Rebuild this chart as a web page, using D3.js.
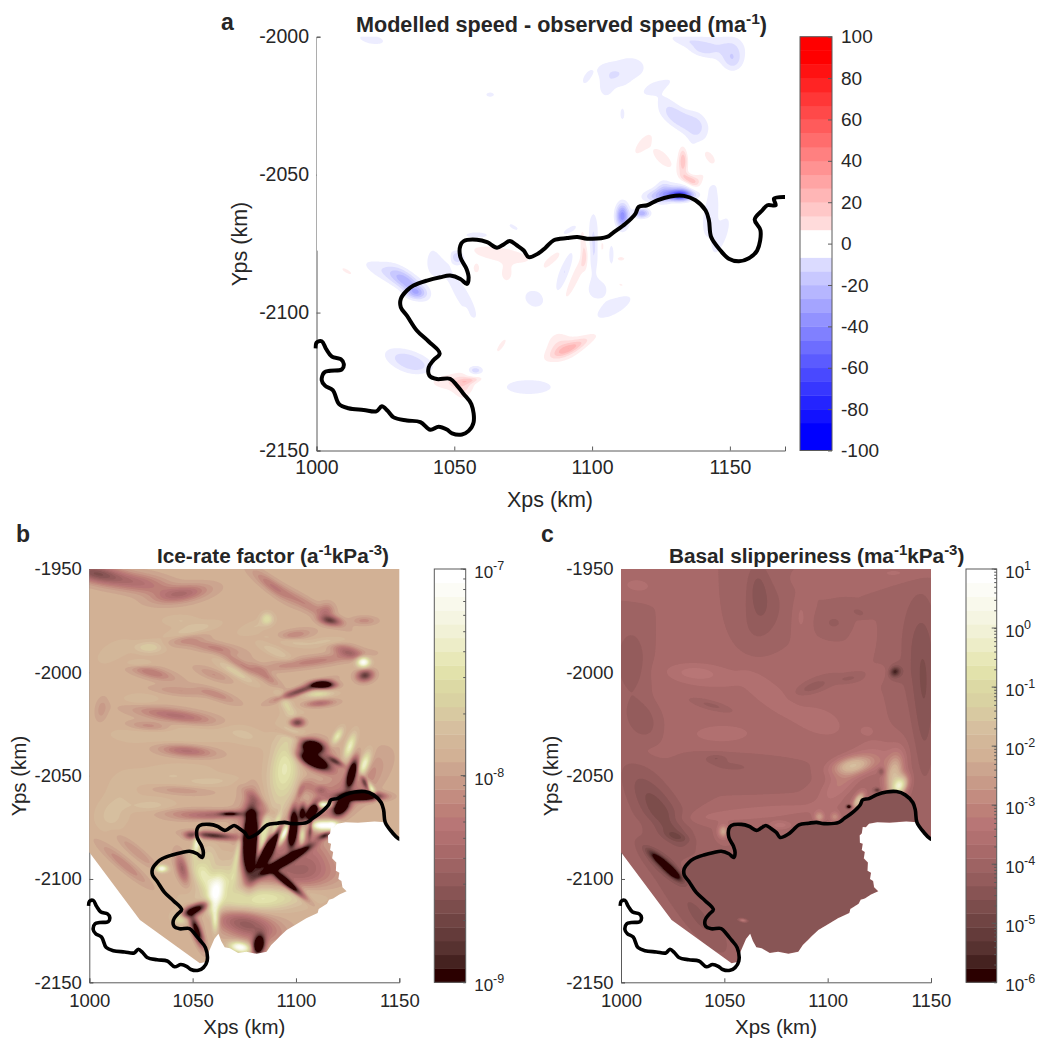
<!DOCTYPE html>
<html><head><meta charset="utf-8">
<script src="https://cdn.jsdelivr.net/npm/d3@7"></script>
<style>html,body{margin:0;padding:0;background:#fff}svg{display:block}
text{font-family:"Liberation Sans",Arial,sans-serif;fill:#262626}
</style></head><body><svg id="c" width="1037" height="1042"></svg>
<script>
// Grounding line (km)
const coastX=[999.6,1000.1,1001.9,1003.5,1005.6,1008.8,1009.9,1009.2,1005,1002.8,1001.9,1003.1,1005.9,1008.2,1011.6,1017.1,1021.7,1023.7,1025.8,1028,1032.8,1037.7,1041.3,1044.3,1047.3,1049.2,1052.8,1055.2,1057,1056.2,1053.4,1051,1048.5,1043.7,1041,1040.7,1042.5,1044.7,1040.7,1036.4,1032.8,1030.6,1030.6,1032.8,1035.2,1040.1,1044.9,1048.5,1052.2,1054.6,1055.2,1054.4,1052.2,1052.2,1053.4,1058.2,1061.9,1065.5,1067.9,1070.1,1072.8,1075.2,1077,1080.6,1083.1,1086.1,1090.9,1094.6,1098.2,1105.4,1107.9,1112.1,1115.7,1116.9,1120,1123.6,1128.4,1133.3,1137.5,1141.2,1142.4,1143.2,1146.6,1149.6,1153.3,1156.9,1159.9,1161.1,1159,1161.7,1163.6,1166.6,1166,1170.2];
const coastY=[-2113,-2110.8,-2110.4,-2113.2,-2116,-2116.9,-2118.6,-2120.6,-2121.1,-2121.7,-2124.5,-2126.5,-2128.1,-2133.2,-2134.7,-2135.3,-2135.8,-2134,-2135.6,-2138,-2139.1,-2139.7,-2142.5,-2141.4,-2142.4,-2143.8,-2144.2,-2142.9,-2139.8,-2133.2,-2129.5,-2126.5,-2124,-2124.1,-2122.9,-2119.9,-2117.2,-2114.8,-2110.5,-2106.5,-2101.1,-2098.1,-2095,-2092,-2090.2,-2088.4,-2087.2,-2086.6,-2087.8,-2089.6,-2087.2,-2084.1,-2079.9,-2075.7,-2074.1,-2073.6,-2074.5,-2076.5,-2075.3,-2074.1,-2075.7,-2077.5,-2079.9,-2078.5,-2076.5,-2073.8,-2073,-2072.6,-2073.2,-2072.6,-2070.8,-2067.8,-2064.2,-2061.7,-2061.1,-2059.3,-2057.9,-2057.7,-2059.3,-2063,-2066.6,-2072.6,-2077.5,-2080.5,-2081.4,-2080.3,-2077.5,-2070.2,-2066.3,-2063,-2061.1,-2061.1,-2058.7,-2058.1];
// Model domain outline of panels b and c (km)
const domainX=[1000,1150,1150,1146.6,1143.2,1138,1130,1124,1120,1118.5,1117,1116.5,1115.5,1115.6,1117,1116.5,1118,1117.5,1119.5,1119.3,1121,1120.5,1122,1122.5,1124.5,1121,1118,1116,1115,1111,1110.5,1105,1100,1095.5,1092.5,1090.5,1088,1085.8,1081,1076,1072,1068,1065.5,1063.8,1062.5,1060.5,1059,1057.5,1056.7,1053.5,1024.5,1000];
const domainY=[-1950,-1950,-2080,-2077.5,-2072.6,-2072.2,-2072.8,-2072.6,-2073.3,-2075,-2074.8,-2078,-2079,-2082.5,-2083,-2086,-2087,-2090,-2092,-2096,-2097,-2100,-2101,-2104,-2106,-2107.5,-2109.5,-2110,-2112,-2114.5,-2116.5,-2119,-2122,-2124.7,-2127.5,-2129.5,-2132,-2135.2,-2136.2,-2135.2,-2135.8,-2133.5,-2133,-2130,-2126.5,-2129,-2132.5,-2136,-2140,-2140.8,-2119.8,-2087.1];
// Field anomalies: [x km, y km, length km, width km, angle deg, amplitude]
const speedDiff=[
[1145,-2004,7,3.5,0,-10.5],[1151,-2006,3,4,0,-9],[1135,-2001.5,6,1.6,-10,-10],[1151,-2009,2.5,2.5,0,-9],[1140,-2005,3,1.2,-10,-7],[1020,-2001,5,1.8,-10,-9.5],[1114,-2011,5,3.5,0,-10],[1107,-2014,5,3,-30,-10.5],[1105,-2019,2.5,2,90,-9],[1098,-2015,2.5,1.2,60,-9],[1124,-2018,5,1.5,25,-10],[1129,-2027,7,2.5,-50,-10],[1133,-2030,6,2.5,-20,-11],[1138,-2035,6,3,90,-10],[1063,-2021,1.8,1,0,-9],[1111,-2028,2.5,.9,90,-9],
[1118.5,-2039,4,1.5,50,11],[1125.5,-2044,4.5,1.9,-45,10.5],[1133,-2045,3.5,1.2,90,26],[1142,-2043,4,1.7,-50,10.5],[1135.5,-2052,2.5,1.3,-30,24],[1138.5,-2052.5,3.5,1.8,50,11],
[1132,-2057.5,3,1.3,0,-70],[1130,-2056,7,2,10,-18],[1126,-2056,3,2,90,-13],[1123,-2058,3,1.5,0,-12],[1111,-2065,3,1.6,90,-45],[1118,-2064,2,1.2,0,-32],[1143,-2064,8,2.4,80,-11],[1147,-2072,7,2,70,-9.5],
[1100.5,-2075,8,1.4,90,-16],[1107,-2079,3,.7,90,-12],[1097,-2077,6,1,95,13],[1094,-2087,7,1.2,65,13],[1090,-2085,6,1.4,70,-14],[1086,-2081,4,1.5,50,10.5],[1103.5,-2076,3,.9,90,9],[1092,-2070,3.5,1.1,30,-9],
[1102,-2091.5,3.2,3,0,-10.5],[1079,-2095,3.5,2.8,-30,-10.5],[1108,-2098,7,2.5,30,-10.5],[1088,-2111,3.5,3.5,0,10],[1095,-2111,7,1.6,25,10],[1090,-2114,5.5,2.4,20,11],[1092,-2113,4,1,25,10],[1067,-2112,3.5,1,55,9],[1077,-2127,8,2.5,0,-11],[1057.6,-2121,2,1.2,0,-18],
[1048,-2125,6.5,2.4,-5,13],[1056,-2124.5,3,.8,10,14],[1053,-2127,3.5,2.4,90,11],[1034,-2118,6.5,2.8,-20,-20],[1033,-2089,5.5,2.2,-40,-24],[1026,-2086,8,2.3,-25,-12],[1036,-2093,2.5,1.5,0,-18],[1043,-2082,5,3,90,-10],[1051,-2080,2,2,0,-20],[1053,-2094,9,2.2,-60,-11],
[1046,-2078,4,1.1,-50,10],[1067,-2079,10,2.4,-10,11],[1069,-2086,2.5,1.8,90,10],[1058,-2084,1.8,1.2,90,9],[1058,-2072,5,1.3,0,-9.5],[1071.5,-2069,2.5,.9,-30,-8.5],[1011,-2085,2.5,.8,-30,9],[1110.5,-2080.5,1,.5,0,14],[1110.5,-2090,1.2,.6,-30,9],[1054,-2101,1.8,.7,90,9],[1085,-2085,3.5,1.2,60,-9]];
const iceRate=[
[1003,-1952,9,3,-10,-10],[1020,-1956,10,3,-5,-4],[1045,-1962,9,2.6,10,-6],[1031,-1959,10,3.5,-10,-2.5],[1088,-1958,8,2,-40,-3],[1103,-1966,14,2,-30,-3.5],[1116.5,-1975,3.5,1.5,-10,-11],[1115,-1970,2.5,2.5,0,-4],[1133,-1975,4,1.4,0,-3],[1099,-1982,6,1.7,10,-3.5],[1125,-1990,5,2,-15,-7],[1107,-1995,16,1.8,8,-4],
[1132.6,-1995,2.2,1.8,0,13],[1133.4,-2001.5,2.7,1.9,10,-13],[1113,-2006,3.5,1.2,0,-30],[1102,-2009,8,1.2,20,-12],[1111.5,-2015,5,1.2,5,-6],[1111,-2010.5,5,1.2,3,5],[1100.6,-2024.3,2.4,1.6,0,-14],
[1030,-2000,8,2,-15,-4.5],[1060,-1988,9,1.8,-10,-3.5],[1060,-2001,6,1.6,-20,-2.5],[1047,-1984,7,2,10,-2.5],[1073,-1996,7,1.5,-30,-3.5],[1086,-2002,7,1.6,-40,-3.5],[1044,-2009,9,1.5,-5,-2.5],[1062,-2011,7,1.6,-20,-3],[1042,-2021,13,2.2,-8,-6],[1029,-2026,7,1.6,-5,-3.5],[1047,-2038,9,2,-5,-6],[1006,-2018,4,2,80,-2],[1081,-2062,6,1.6,-40,-3],[1044,-2057,10,1.6,-3,-2.5],[1017,-2093,10,1.8,-40,-3.5],[1023,-2087,8,1.6,-40,-2.5],[1048,-2068,14,1.6,0,-3],
[1029,-1988,5,2,0,3.5],[1049,-1980,9,2,15,2.5],[1086,-1974,2,2,0,5],[1071,-2000,7,1.6,-30,3.5],[1095,-2015,6,1.8,-60,3.5],[1023,-1996,5,1.5,0,2.5],[1040,-2030,20,4,0,1.5],[1040,-2050,14,4,5,1.5],[1015,-2060,8,5,70,1.2],[1090,-1990,6,1.6,-25,2.5],[1097,-1985,8,1.5,-10,2],[1115,-1985,6,1.3,5,2],[1044,-1975,6,2,0,1.5],[1012,-1990,6,3,30,1.5],[1080,-1978,6,2,20,1.5],[1030,-2065,8,3,0,2],[1010,-2070,5,5,0,1.5],[1060,-2053,10,2,5,1.5],[1025,-2013,6,2,0,1.5],[1075,-2030,8,3,-20,1.5],
[1095,-2045,13,5,80,7],[1108,-2036,3.5,2,-10,-32],[1109,-2043,5,1.9,-25,-32],[1119,-2043,3,1,-30,-12],[1127,-2049,4.5,1.4,75,-28],[1134,-2054,3,1,-60,-16],[1131,-2060,6,1.3,0,-40],[1122,-2065,3.2,2,50,-32],[1108,-2067,3,1.4,60,-32],[1103,-2068,2.8,1.2,85,-18],[1098.5,-2075,5.5,1.4,85,-40],[1107,-2075,4,.7,85,-10],[1114,-2079,2.5,1,20,-14],
[1108,-2040,8,5,-20,-5],[1128,-2055,12,5,45,-5],[1110,-2068,12,4,60,-4],[1078,-2082,13,5,88,-6],[1090,-2087,12,5,50,-4],
[1133,-2045,4.5,1.7,70,11],[1136,-2056,3.5,1,-60,16],[1126,-2036,4.5,1.5,70,8],[1120,-2031,3,1.3,60,7],[1113,-2064,3,1.1,0,16],[1112,-2074,4,1.7,0,16],[1118,-2074,2,1.5,0,10],[1095,-2077,5,1.2,60,11],[1103,-2079,3,1,85,10],
[1078,-2082,10,2.2,88,-40],[1087.5,-2085,6,1.7,60,-38],[1095,-2091,8,1.2,30,-38],[1096,-2102,7,1.2,-40,-22],[1060,-2079,7,1.2,-5,-15],[1049,-2079,2,1.2,0,-8],[1068,-2068.5,3,.7,0,-13],[1065,-2069,13,1.4,3,-6],[1083,-2084,8,1.2,70,11],[1092,-2081,6,1.2,60,11],[1052,-2083,4,1.2,80,9],
[1045,-2095,5,1.9,-75,-8],[1035,-2095,2,1.2,0,11],[1055,-2098,6,3,-60,6],[1061,-2108,7,2.4,80,9],[1061,-2120,4,1.2,90,9],[1051,-2115,4.5,1.6,25,-22],[1052,-2125,5,1.4,-70,-20],[1044,-2119,2.4,1.8,0,8],[1082,-2132,3.2,1.9,80,-28],[1076,-2122,11,4.5,-15,-9],[1073,-2133,3.5,1.7,-10,13],[1082,-2110,18,4,5,6],[1068,-2100,9,3.5,30,3],[1100,-2098,13,7,0,-8],[1108,-2087,6,6,0,-3],[1070,-2092,7,4,70,2.5],
[1085,-2105,20,5,0,3],[1058,-2090,3,5,0,3],[1083,-2078,6,1,70,8],[1090,-2075,5,1,70,8],[1072,-2086,8,1,80,6],
[1106,-2055,3,2.5,0,-4],[1102,-2058,3,1.2,70,-5],[1112,-2057,2,1.5,0,-5],[1097,-2030,6,1,-20,-3]];
const slipperiness=[
[1018,-2066,18,7,-55,-3],[1022,-2073,12,3,-55,-1],[1005,-1995,12,6,90,-2],[1010,-2023,7,5,-60,-2],[1066,-1958,9,4,90,-1.8],[1069,-1972,12,7,70,-1.6],[1144,-1990,22,7,90,-2],[1147,-2020,25,4,90,-2],
[1132.6,-1999.7,1.6,1.4,30,-5.5],[1132.6,-2000,3,3,0,-1.8],[1093,-2007,6,2,20,-2],[1110,-2003,4,1.2,10,-1.4],[1115,-1971,3,1.5,-20,-1.4],[1103,-1976,4,3,0,-1.2],[1044,-2016,7,1.5,-15,-1.8],[1046,-2041.5,3,1.2,0,-1.4],[1050,-2045,20,4,-5,-1.2],[1027,-2079.5,4,1.5,-15,-1.8],
[1020,-2092,5,1.2,-40,-11],[1025,-2097,3.5,1.2,-40,-10],[1021,-2093,8,2.8,-40,-2.8],[1020,-2100,25,6,-55,-1],[1040,-2120,15,5,-55,-1.8],
[1045,-2005,30,14,-10,.6],[1037,-2001,11,3.5,-5,1.3],[1036,-2000,6,2,-3,.9],[1075,-2015,20,8,-30,.5],[1070,-2008,10,3,-40,.9],[1050,-2030,22,7,0,.5],[1048,-2030,10,3,0,.9],[1100,-2020,14,9,0,.5],[1098,-2025,7,4,-20,.9],[1015,-2040,18,4,-10,.5],[1087,-1973,7,2.5,90,1.2],[1008,-1958,7,3.5,-5,1.3],[1135,-1952,12,3,0,1.2],[1090,-1955,5,3,0,.9],[1117,-1984,5,2.5,80,1],[1125,-2001,4,2,30,1],[1119,-2028,3,2,0,1],
[1135,-2055,3.5,2.2,60,13],[1132,-2050,7,3,80,8.5],[1112,-2045,7,3,10,7.5],[1115,-2062,3,1.5,60,10],[1106,-2054,9,4,45,3],[1049.5,-2077,2.2,1.8,90,6.5],[1096,-2070,1.8,1.8,0,5.5],[1103.5,-2070,1.8,1.8,0,4.5],[1077,-2074,4,1.5,0,2.5],[1065,-2068,25,2.5,5,1.8],[1124,-2040,8,6,0,1.8],[1035,-2092,3,1.5,20,2.5],
[1110.3,-2065,.8,.6,0,-16],[1126,-2048,1,1.2,0,-4],[1124,-2057,1,.7,0,-6]];
const shelfSpots=[[1059,-2120,1.3,.5,-10,6]];
// Colour bands, dark to light
const bandColors=["#2b0000","#452220","#573230","#643b3a","#704443","#7c4d4c","#885454","#945c5c","#9e6363","#a86969","#b17070","#b87676","#bd8078","#c38c80","#c89a88","#cca58f","#d2b195","#d3b799","#d6bf9f","#d8c9a1","#d9d2a2","#dcd9a4","#e2e2ab","#e8e8b8","#ededc8","#f1f1d6","#f5f5e2","#f9f9ec","#fcfcf6","#ffffff"];
const speedTicks=[-100,-80,-60,-40,-20,0,20,40,60,80,100];
const xTicksA=[1000,1050,1100,1150], yTicksA=[-2150,-2100,-2050,-2000];
const xTicksB=[1000,1050,1100,1150], yTicksB=[-2150,-2100,-2050,-2000,-1950];
const iceBase=16.5, slipBase=9, shelfLevel=6.5;

const svg=d3.select("#c");
const defs=svg.append("defs");
defs.append("filter").attr("id","soft").attr("x","-5%").attr("y","-5%").attr("width","110%").attr("height","110%").append("feGaussianBlur").attr("stdDeviation",0.6);

const coast=coastX.map((x,i)=>[x,coastY[i]]);
const domain=domainX.map((x,i)=>[x,domainY[i]]);
const AX="#5a5a5a";

function grid(x0,x1,yTop,yBot,d){
  const nx=Math.round((x1-x0)/d)+1, ny=Math.round((yTop-yBot)/d)+1;
  return {x0,yTop,d,nx,ny};
}
function accumulate(g,features,base){
  const v=new Float64Array(g.nx*g.ny).fill(base);
  for(const [fx,fy,l,w,ang,amp] of features){
    const c=Math.cos(ang*Math.PI/180), s=Math.sin(ang*Math.PI/180), R=4*Math.max(l,w);
    const i0=Math.max(0,Math.floor((fx-R-g.x0)/g.d)), i1=Math.min(g.nx-1,Math.ceil((fx+R-g.x0)/g.d));
    const j0=Math.max(0,Math.floor((g.yTop-fy-R)/g.d)), j1=Math.min(g.ny-1,Math.ceil((g.yTop-fy+R)/g.d));
    for(let j=j0;j<=j1;j++){const y=g.yTop-j*g.d-fy;
      for(let i=i0;i<=i1;i++){const x=g.x0+i*g.d-fx;
        const u=(x*c+y*s)/l, t=(-x*s+y*c)/w;
        v[j*g.nx+i]+=amp*Math.exp(-.5*(u*u+t*t));
      }}
  }
  return v;
}
function fieldPath(g,xs,ys){
  return d3.geoPath(d3.geoTransform({point(px,py){this.stream.point(xs(g.x0+(px-.5)*g.d),ys(g.yTop-(py-.5)*g.d));}}));
}
function axes(sel,xs,ys,xT,yT,y0,x0,lab){
  const ax=sel.append("g").attr("transform",`translate(0,${y0})`).call(d3.axisBottom(xs).tickValues(xT).tickSize(-4).tickPadding(lab.pad).tickFormat(d=>d));
  const ay=sel.append("g").attr("transform",`translate(${x0},0)`).call(d3.axisLeft(ys).tickValues(yT).tickSize(-4).tickPadding(7.5).tickFormat(d=>d));
  [ax,ay].forEach(a=>{a.selectAll("path").attr("stroke",AX);a.selectAll("line").attr("stroke",AX);a.selectAll("text").attr("font-size",lab.tick).attr("fill","#262626");a.attr("font-family",null)});
  sel.append("text").attr("x",lab.xx).attr("y",lab.xy).attr("text-anchor","middle").attr("font-size",lab.size).text("Xps (km)");
  sel.append("text").attr("transform",`translate(${lab.yx},${lab.yy}) rotate(-90)`).attr("text-anchor","middle").attr("font-size",lab.size).text("Yps (km)");
}
function title(x,y,size,parts){
  const t=svg.append("text").attr("x",x).attr("y",y).attr("font-weight","bold").attr("font-size",size);
  let up=false;
  parts.forEach(p=>{const s=typeof p!=="string";const ts=t.append("tspan").text(s?p[0]:p);
    if(s){ts.attr("dy",-8).attr("font-size",size*.72);up=true}else if(up){ts.attr("dy",8);up=false}});
}
function coastLine(sel,xs,ys,id,xMax,w){
  defs.append("clipPath").attr("id",id).append("rect").attr("x",xs(1000)-3).attr("y",ys.range()[1]-2).attr("width",xs(xMax)-xs(1000)+3).attr("height",ys.range()[0]-ys.range()[1]+4);
  sel.append("path").datum(coast).attr("clip-path",`url(#${id})`).attr("fill","none").attr("stroke","#000").attr("stroke-width",w).attr("stroke-linejoin","round")
    .attr("d",d3.line().x(d=>xs(d[0])).y(d=>ys(d[1])).curve(d3.curveCatmullRom.alpha(.5)));
}
function logBar(x0,x1,ys,lo,hi,minorSize){
  const yb=d3.scaleLinear().domain([0,30]).range(ys.range());
  const g=svg.append("g");
  g.selectAll("rect").data(bandColors).join("rect").attr("x",x0).attr("width",x1-x0).attr("y",(d,i)=>yb(i+1)).attr("height",(d,i)=>yb(i)-yb(i+1)+.4).attr("fill",d=>d);
  g.append("rect").attr("x",x0).attr("y",yb(30)).attr("width",x1-x0).attr("height",yb(0)-yb(30)).attr("fill","none").attr("stroke",AX);
  const vals=[];for(let e=lo;e<hi;e++)for(let m=1;m<10;m++)vals.push(+(m+"e"+e));vals.push(+("1e"+hi));
  const a=g.append("g").attr("transform",`translate(${x1},0)`).call(d3.axisRight(ys).tickValues(vals).tickSize(-minorSize).tickPadding(8).tickFormat(""));
  a.select("path").attr("stroke","none");a.selectAll("line").attr("stroke",AX);
  for(let e=lo;e<=hi;e++){
    const y=ys(+("1e"+e));
    g.append("line").attr("x1",x1-5).attr("x2",x1).attr("y1",y).attr("y2",y).attr("stroke",AX);
    const t=g.append("text").attr("x",x1+8.5).attr("y",y+9).attr("font-size",17);
    t.append("tspan").text("10");
    t.append("tspan").attr("dy",-8).attr("font-size",12.5).text(e);
  }
}

/* ---------- panel a ---------- */
{
  const xs=d3.scaleLinear().domain([1000,1170]).range([316.5,785]);
  const ys=d3.scaleLinear().domain([-2150,-2000]).range([450.5,36.7]);
  const g=svg.append("g");
  axes(g,xs,ys,xTicksA,yTicksA,ys(-2150),xs(1000),{xx:550,xy:507,yx:247,yy:244,pad:10,tick:19.5,size:21.5});
  g.append("rect").attr("x",xs(1000)+.5).attr("y",ys(-2000)+1.5).attr("width",xs(1170)-xs(1000)).attr("height",ys(-2077)-ys(-2000)).attr("fill","#fff");
  const gr=grid(1000,1170,-2000,-2150,.5);
  const vals=accumulate(gr,speedDiff,0);
  const neg=vals.map(v=>-v);
  const path=fieldPath(gr,xs,ys);
  defs.append("clipPath").attr("id","clipA").append("rect").attr("x",xs(1000)).attr("y",ys(-2000)).attr("width",xs(1170)-xs(1000)).attr("height",ys(-2150)-ys(-2000));
  const f=g.append("g").attr("clip-path","url(#clipA)").append("g").attr("filter","url(#soft)");
  const cont=d3.contours().size([gr.nx,gr.ny]).smooth(true);
  const red=d3.interpolateRgb("#fff","#f00"), blue=d3.interpolateRgb("#fff","#00f");
  for(let i=1;i<=14;i++){
    const t=i*200/30;
    f.append("path").attr("d",path(cont.contour(vals,t))).attr("fill",red(i/14));
    f.append("path").attr("d",path(cont.contour(neg,t))).attr("fill",blue(i/14));
  }
  coastLine(g,xs,ys,"coastA",1170,4);
  // colourbar
  const yb=d3.scaleLinear().domain([-100,100]).range([450.5,36.7]);
  const bands=d3.range(30);
  const cb=svg.append("g");
  const bandColor=i=>{const k=i-14.5; if(Math.abs(k)<1)return "#fff"; const n=Math.floor(Math.abs(k)+.5)/14; return k>0?red(n):blue(n);};
  cb.selectAll("rect").data(bands).join("rect").attr("x",800).attr("width",32).attr("y",i=>yb(-100+(i+1)*200/30)).attr("height",i=>yb(-100+i*200/30)-yb(-100+(i+1)*200/30)+.4).attr("fill",bandColor);
  cb.append("rect").attr("x",800).attr("y",yb(100)).attr("width",32).attr("height",yb(-100)-yb(100)).attr("fill","none").attr("stroke",AX);
  const a=cb.append("g").attr("transform","translate(832,0)").call(d3.axisRight(yb).tickValues(speedTicks).tickSize(-4).tickPadding(9).tickFormat(d=>d));
  a.select("path").attr("stroke","none");a.selectAll("line").attr("stroke",AX);a.attr("font-family",null);a.selectAll("text").attr("font-size",19).attr("fill","#262626");
  title(356,32,21.6,["Modelled speed - observed speed (ma",["-1"],")"]);
}
svg.append("text").attr("x",221).attr("y",30).attr("font-weight","bold").attr("font-size",23).text("a");

/* ---------- panels b, c ---------- */
function panel(left,features,base,id,shelf){
  const xs=d3.scaleLinear().domain([1000,1150]).range([left,left+310]);
  const ys=d3.scaleLinear().domain([-2150,-1950]).range([982.3,569]);
  const g=svg.append("g");
  axes(g,xs,ys,xTicksB,yTicksB,ys(-2150),xs(1000),{xx:left+155,xy:1034,yx:left-63,yy:776,pad:12,tick:18.5,size:20.5});
  const gr=grid(1000,1150,-1950,-2150,.5);
  let vals=accumulate(gr,features,base);
  if(shelf){
    const iA=coastX.indexOf(1057), iB=coastX.indexOf(1143.2);
    const dA=domainX.indexOf(1143.2), dB=domainX.indexOf(1056.7);
    const poly=coast.slice(iA,iB+1).concat(domain.slice(dA,dB+1).slice(1));
    const sv=accumulate(gr,shelfSpots,shelfLevel);
    for(let j=0;j<gr.ny;j++)for(let i=0;i<gr.nx;i++){
      if(d3.polygonContains(poly,[gr.x0+i*gr.d,gr.yTop-j*gr.d])) vals[j*gr.nx+i]=sv[j*gr.nx+i];
    }
  }
  const path=fieldPath(gr,xs,ys);
  defs.append("clipPath").attr("id",id).append("path").datum(domain).attr("d",d3.line().x(d=>xs(d[0])).y(d=>ys(d[1])));
  const f=g.append("g").attr("clip-path",`url(#${id})`).append("g").attr("filter","url(#soft)");
  f.append("rect").attr("x",left-3).attr("y",ys(-1950)-3).attr("width",316).attr("height",420).attr("fill",bandColors[0]);
  const cont=d3.contours().size([gr.nx,gr.ny]).smooth(true);
  for(let i=1;i<30;i++) f.append("path").attr("d",path(cont.contour(vals,i))).attr("fill",bandColors[i]);
  coastLine(g,xs,ys,id+"c",1150,3.6);
}
panel(89.3,iceRate,iceBase,"clipB",false);
panel(621,slipperiness,slipBase,"clipC",true);
logBar(434.3,465.7,d3.scaleLog().domain([1e-9,1e-7]).range([982.3,569]),-9,-7,2.5);
logBar(966,996.7,d3.scaleLog().domain([1e-6,1e1]).range([982.3,569]),-6,1,2.5);
title(157,563,20.75,["Ice-rate factor (a",["-1"],"kPa",["-3"],")"]);
title(669,563,20.75,["Basal slipperiness (ma",["-1"],"kPa",["-3"],")"]);
svg.append("text").attr("x",16).attr("y",542).attr("font-weight","bold").attr("font-size",23).text("b");
svg.append("text").attr("x",541).attr("y",542).attr("font-weight","bold").attr("font-size",23).text("c");
</script></body></html>
